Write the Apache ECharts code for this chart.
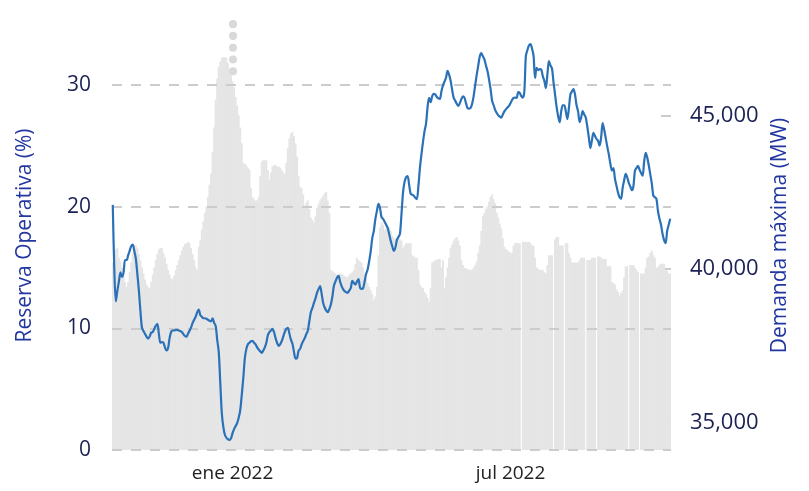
<!DOCTYPE html>
<html>
<head>
<meta charset="utf-8">
<script src="https://cdn.jsdelivr.net/npm/echarts@6/dist/echarts.min.js"></script>
<style>
  html, body { margin: 0; padding: 0; background: #fff; }
  #chart { width: 809px; height: 491px; }
</style>
</head>
<body>
<div id="chart"></div>
<script>
// one category per day, 2021-10-15 .. 2022-10-13
const startDate = '2021-10-15'
const dayCount = 364
const labelDays = { '2022-01-01': 'ene 2022', '2022-07-01': 'jul 2022' }

// Reserva Operativa (%), daily (null = missing day)
const reserva = [
  15.4, 15.5, 16.5, 16.6, 15.8, 15.5, 15.0, 14.3, 13.8, 13.4,
  13.8, 14.6, 15.4, 16.2, 16.8, 16.8, 16.6, 16.1, 15.6, 15.0,
  14.5, 14.0, 13.6, 13.4, 13.3, 13.8, 14.4, 15.0, 15.6, 16.1,
  16.5, 16.6, 16.6, 16.2, 15.8, 15.3, 14.8, 14.4, 14.1, 14.0,
  14.3, 14.8, 15.2, 15.6, 16.0, 16.4, 16.7, 16.9, 17.0, 17.1,
  17.0, 16.6, 16.1, 15.6, 15.0, 14.8, 16.7, 17.3, 18.1, 18.8,
  19.5, 20.0, 20.8, 21.8, 22.7, 24.5, 26.5, 28.8, 30.5, 31.5,
  31.9, 32.2, 32.3, 32.3, 32.2, 31.8, 31.3, 30.8, 30.3, 29.8,
  29.0, 28.3, 27.5, 26.5, 25.2, 23.6, 23.5, 23.4, 23.2, 23.0,
  21.5, 20.8, 20.6, 20.5, 20.5, 20.8, 22.5, 23.7, 23.8, 23.8,
  23.8, 23.0, 22.2, 22.8, 23.3, 23.4, 23.4, 23.3, 23.3, 23.2,
  23.0, 22.8, 22.7, 23.6, 24.8, 25.6, 26.0, 26.1, 25.8, 25.2,
  24.1, 22.5, 21.6, 21.5, 21.0, 19.9, 20.3, 20.5, 19.8, 19.1,
  18.9, 18.7, 19.2, 19.9, 20.2, 20.5, 20.7, 20.9, 21.1, 21.2,
  20.5, 19.5, 14.8, 14.7, 14.6, 14.5, 14.4, 14.4, 14.5, 14.5,
  14.4, 14.3, 14.2, 14.2, 14.4, 14.5, 14.6, 14.8, 15.3, 15.8,
  15.6, 15.5, 15.4, 15.0, 14.5, 14.1, 13.7, 13.4, 13.1, 12.8,
  12.3, 12.6, 13.4, 16.0, 18.3, 18.7, 18.5, 18.1, 18.2, 18.3,
  18.3, 18.0, 17.6, 17.4, 17.4, 17.4, 17.4, 17.3, 17.2, 16.6,
  16.8, 17.0, 17.0, 17.0, 17.0, 16.0, 15.9, 15.8, 15.8, 14.8,
  13.6, 13.4, 13.3, 13.0, 12.8, 12.5, 12.2, 13.3, 15.4, 15.5,
  15.6, 15.6, 15.7, 15.7, 15.0, 15.6, 13.3, 14.2, 15.0, 15.8,
  16.6, 16.9, 17.2, 17.4, 17.5, 17.2, 16.8, 15.6, 15.2, 15.0,
  14.9, 14.9, 14.8, 14.8, 14.8, 15.0, 15.2, 15.5, 16.2, 16.8,
  18.0, 19.2, 19.5, 19.8, 20.0, 20.4, 20.8, 21.0, 20.6, 20.3,
  19.5, 19.1, 18.6, 18.2, 17.4, 16.7, 16.5, 16.4, 16.3, 16.2,
  16.2, 16.8, 17.0, 17.0, 17.0, 17.0, null, 17.1, 17.1, 17.1,
  17.1, 17.1, 17.0, 16.8, 16.8, 15.8, 15.0, 14.9, 14.8, 14.8,
  14.8, 14.6, 14.5, 15.2, 16.0, 16.0, 16.0, null, 17.3, 17.5,
  17.5, 16.8, 16.8, 16.8, null, 17.0, 17.0, 16.2, 15.8, 15.4,
  15.4, 15.4, 15.4, 15.4, 15.6, 15.8, 15.8, 15.8, null, 15.6,
  15.6, 15.6, 15.8, 15.8, 15.8, null, 15.9, 15.9, 15.8, 15.7,
  15.7, 15.7, 15.1, 15.1, 15.1, 13.8, 13.7, 13.6, 13.2, 13.0,
  12.7, 12.9, 13.1, 14.2, 15.1, 15.1, null, 15.2, 15.2, 15.2,
  15.0, 14.8, 14.6, null, 14.5, 14.5, 14.5, 15.0, 15.8, 15.9,
  16.2, 16.4, 16.0, 15.8, 15.0, 15.0, 15.2, 15.3, 15.3, 15.3,
  14.8, 14.7, 14.5, 14.5
]

// Demanda máxima (MW), daily
const demanda = [
  42100, 40000, 38950, 39300, 39600, 39900, 39750, 39880, 40300, 40300,
  40450, 40600, 40750, 40800, 40600, 40350, 39850, 39300, 38640, 38090,
  37980, 37890, 37800, 37730, 37800, 37930, 37950, 38050, 38150, 38220,
  37900, 37600, 37620, 37600, 37450, 37350, 37420, 37750, 37950, 38000,
  38000, 38020, 38020, 38000, 37980, 37950, 37880, 37820, 37800, 37900,
  37990, 38100, 38250, 38350, 38450, 38600, 38680, 38500, 38450, 38400,
  38400, 38380, 38350, 38320, 38300, 38400, 38250, 38150, 37700, 37300,
  36300, 35300, 34850, 34600, 34500, 34450, 34430, 34480, 34650, 34780,
  34880, 34980, 35150, 35400, 35900, 36450, 37100, 37400, 37550, 37600,
  37650, 37660, 37600, 37550, 37450, 37380, 37320, 37270, 37350, 37450,
  37600, 37850, 37950, 38000, 38050, 37950, 37750, 37600, 37500, 37550,
  37650, 37800, 37950, 38050, 38090, 37900, 37700, 37570, 37300, 37080,
  37100, 37340, 37400, 37550, 37660, 37750, 37880, 37990, 38300, 38600,
  38740, 38900, 39050, 39230, 39350, 39450, 39200, 38900, 38750, 38650,
  38600, 38700, 38850, 39100, 39460, 39600, 39720, 39780, 39600, 39450,
  39350, 39280, 39250, 39230, 39300, 39390, 39620, 39550, 39500, 39600,
  39680, 39400, 39360, 39380, 39600, 39850, 40000, 40270, 40600, 41020,
  41250, 41640, 41900, 42130, 42000, 41700, 41640, 41550, 41450, 41350,
  41150, 40920, 40750, 40600, 40700, 40950, 41050, 41150, 41800, 42500,
  42850, 43000, 43040, 42750, 42460, 42430, 42400, 42330, 42290, 42700,
  43300, 43750, 44150, 44500, 44750, 45300, 45590, 45450, 45650, 45720,
  45700, 45620, 45580, 45560, 45800, 46000, 46120, 46250, 46470, 46350,
  46150, 45850, 45590, 45500, 45400, 45330, 45420, 45550, 45640, 45600,
  45420, 45260, 45240, 45260, 45400, 45650, 46000, 46350, 46650, 46950,
  47050, 46950, 46850, 46650, 46470, 46200, 45880, 45500, 45350, 45200,
  45100, 45020, 44980, 44950, 45050, 45150, 45220, 45280, 45330, 45420,
  45520, 45590, 45600, 45590, 45780, 45750, 45650, 45600, 45800, 46960,
  47150, 47300, 47350, 47200, 46960, 46240, 46570, 46500, 46530, 46520,
  46300, 46150, 45910, 46350, 46790, 46650, 46550, 46100, 45700, 45300,
  45000, 44800, 45150, 45350, 45350, 45150, 44900, 45250, 45700, 45800,
  45880, 45700, 45350, 45150, 44800, 44950, 45160, 45050, 44950, 44650,
  44300, 43950, 44200, 44450, 44350, 44250, 44190, 44030, 44300, 44770,
  44550, 44280, 44000, 43750, 43450, 43220, 43300, 42950, 42720, 42500,
  42350, 42300, 42650, 42900, 43110, 43000, 42820, 42700, 42580, 42700,
  43210, 43300, 43370, 43250, 43140, 43050, 43500, 43800, 43650, 43400,
  43100, 42800, 42400, 42350, 42300, 41900, 41650, 41450, 41150, 40950,
  40850, 41250, 41450, 41650
]

const reservaTicks = [0, 10, 20, 30]
const demandaTicks = [35000, 40000, 45000]
// dotted marker above the January peak (from, to) in %
const spikeDay = '2022-01-01'
const spikeRange = [35.0, 31.0]

function buildDays() {
  const out = []
  const d = new Date(startDate + 'T00:00:00Z')
  for (let i = 0; i < dayCount; i++) {
    out.push(d.toISOString().slice(0, 10))
    d.setUTCDate(d.getUTCDate() + 1)
  }
  return out
}
const days = buildDays()

const chart = echarts.init(document.getElementById('chart'), null, { renderer: 'canvas' })
const font = 'Open Sans'
const gridLine = { type: [10, 9], color: '#cccccc', width: 2 }

chart.setOption({
  animation: false,
  textStyle: { fontFamily: font },
  grid: { left: 112, right: 138, top: 21, bottom: 41 },
  xAxis: {
    type: 'category',
    data: days,
    boundaryGap: true,
    axisLine: { show: false },
    axisTick: { show: false },
    axisLabel: {
      interval: function(idx, val) { return labelDays[val] !== undefined },
      formatter: function(val) { return labelDays[val] || '' },
      color: '#222222',
      fontSize: 19,
      margin: 14
    }
  },
  yAxis: [
    {
      type: 'value',
      min: 0,
      max: 35.25,
      position: 'left',
      name: 'Reserva Operativa (%)',
      nameLocation: 'middle',
      nameRotate: 90,
      nameGap: 76,
      nameTextStyle: { color: '#2236a0', fontSize: 21 },
      axisLine: { show: false },
      axisTick: { show: false },
      splitLine: { show: false },
      axisLabel: { customValues: reservaTicks, color: '#1b2152', fontSize: 21, margin: 21 }
    },
    {
      type: 'value',
      min: 34100,
      max: 48100,
      position: 'right',
      name: 'Demanda máxima (MW)',
      nameLocation: 'middle',
      nameRotate: 90,
      nameGap: 97,
      nameTextStyle: { color: '#2236a0', fontSize: 21 },
      axisLine: { show: false },
      axisTick: { show: true, inside: true, length: 10, customValues: demandaTicks, lineStyle: { color: '#cccccc', width: 2 } },
      splitLine: { show: false },
      axisLabel: { customValues: demandaTicks, color: '#1b2152', fontSize: 22, margin: 19 }
    }
  ],
  series: [
    {
      name: 'Reserva Operativa',
      type: 'bar',
      yAxisIndex: 0,
      data: reserva,
      barWidth: 2,
      itemStyle: { color: '#e5e5e5' },
      markLine: {
        silent: true,
        symbol: 'none',
        label: { show: false },
        lineStyle: gridLine,
        data: reservaTicks.map(v => ({ yAxis: v })).concat([[
          { coord: [spikeDay, spikeRange[0]], lineStyle: { type: [0.1, 11.7], cap: 'round', width: 8, color: '#d9d9d9' } },
          { coord: [spikeDay, spikeRange[1]] }
        ]])
      }
    },
    {
      name: 'Demanda máxima',
      type: 'line',
      yAxisIndex: 1,
      data: demanda,
      smooth: 0.3,
      symbol: 'none',
      lineStyle: { color: '#2a71b8', width: 2.2 },
      z: 5
    }
  ]
})
</script>
</body>
</html>
